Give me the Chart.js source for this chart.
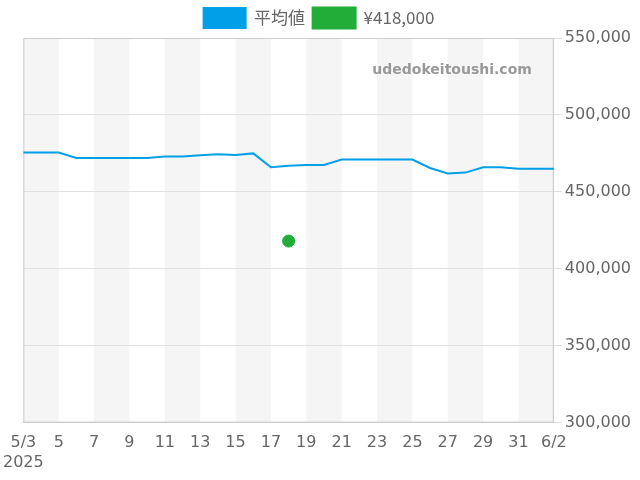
<!DOCTYPE html>
<html>
<head>
<meta charset="utf-8">
<script src="https://cdn.jsdelivr.net/npm/chart.js@4"></script>
<style>
  body { margin: 0; background: #fff; }
</style>
</head>
<body>
<canvas id="c" width="640" height="480"></canvas>
<script>
// daily dates 5/3 .. 6/2
const days = ["5/3","5/4","5/5","5/6","5/7","5/8","5/9","5/10","5/11","5/12","5/13","5/14","5/15","5/16","5/17","5/18",
  "5/19","5/20","5/21","5/22","5/23","5/24","5/25","5/26","5/27","5/28","5/29","5/30","5/31","6/1","6/2"];
const avgPrice = [475500,475500,475500,472000,472000,472000,472000,472000,473000,473000,473800,474500,474000,475000,466000,467000,
  467500,467500,471000,471000,471000,471000,471000,465500,462000,462500,466000,466000,465000,465000,465000];
const listings = [null,null,null,null,null,null,null,null,null,null,null,null,null,null,null,418000,
  null,null,null,null,null,null,null,null,null,null,null,null,null,null,null];
const yTicks = [300000,350000,400000,450000,500000,550000];

// alternating background stripes every 2 days, frame and watermark
const bands = {
  id: "bands",
  beforeDraw(chart) {
    const { ctx, chartArea: a, scales: { x } } = chart;
    ctx.save();
    ctx.fillStyle = "#f5f5f5";
    for (let i = 0; i < days.length - 1; i += 4) {
      const x0 = x.getPixelForValue(i), x1 = x.getPixelForValue(Math.min(i + 2, days.length - 1));
      ctx.fillRect(x0, a.top, x1 - x0, a.bottom - a.top);
    }
    ctx.restore();
  },
  beforeDatasetsDraw(chart) {
    const { ctx, chartArea: a } = chart;
    ctx.save();
    ctx.font = "bold 14px 'DejaVu Sans'";
    ctx.fillStyle = "#999";
    ctx.textAlign = "right";
    ctx.fillText("udedokeitoushi.com", a.right - 22, a.top + 32);
    ctx.strokeStyle = "#ccc";
    ctx.lineWidth = 1;
    ctx.strokeRect(a.left + 0.5, a.top + 0.5, a.right - a.left - 1, a.bottom - a.top - 1);
    ctx.restore();
  }
};

new Chart(document.getElementById("c"), {
  type: "line",
  data: {
    labels: days,
    datasets: [
      { label: "平均値", data: avgPrice, borderColor: "#00a0e9", backgroundColor: "#00a0e9",
        borderWidth: 2, pointRadius: 0, tension: 0 },
      { label: "¥418,000", data: listings, borderColor: "#22ac38", backgroundColor: "#22ac38",
        showLine: false, pointRadius: 6, pointHoverRadius: 6 }
    ]
  },
  options: {
    responsive: false,
    animation: false,
    layout: { padding: { left: 4, right: 6, bottom: 5 } },
    plugins: {
      legend: { labels: { padding: 8, boxWidth: 42, boxHeight: 20, color: "#666", font: { family: "'Noto Sans CJK JP', 'DejaVu Sans'", size: 17 } } },
      tooltip: { enabled: false }
    },
    scales: {
      x: {
        offset: false,
        grid: { display: false },
        border: { color: "#ccc" },
        ticks: {
          autoSkip: false, maxRotation: 0, color: "#666",
          font: { family: "'DejaVu Sans'", size: 16 },
          callback: (v, i) => i % 2 ? null : (i === 0 ? ["5/3", "2025"] : (days[i].startsWith("5/") ? days[i].slice(2) : days[i]))
        }
      },
      y: {
        position: "right", min: 300000, max: 550000,
        afterBuildTicks: s => { s.ticks = yTicks.map(v => ({ value: v })); },
        grid: { color: "#e0e0e0" },
        border: { color: "#ccc" },
        ticks: { color: "#666", font: { family: "'DejaVu Sans'", size: 16 }, callback: v => v.toLocaleString("en-US") }
      }
    }
  },
  plugins: [bands]
});
</script>
</body>
</html>
